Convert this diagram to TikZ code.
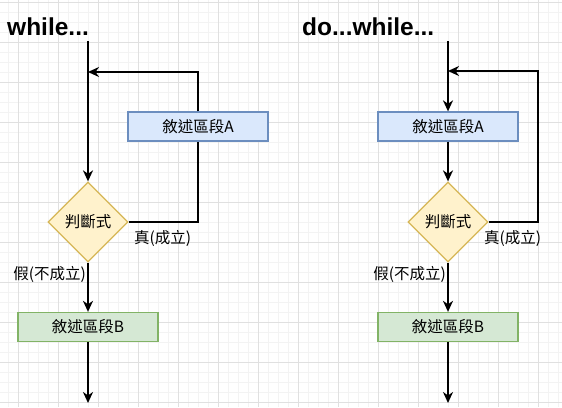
\documentclass[tikz,border=0pt]{standalone}
\usepackage{fontspec}
\setmainfont{Liberation Sans}
\newfontfamily\cjk{Noto Sans CJK TC}
\usetikzlibrary{shapes.geometric,arrows.meta}
\definecolor{gridminor}{HTML}{F3F3F3}
\definecolor{gridmajor}{HTML}{E0E0E0}
\definecolor{bluefill}{HTML}{DAE8FC}
\definecolor{bluedraw}{HTML}{6C8EBF}
\definecolor{yelfill}{HTML}{FFF2CC}
\definecolor{yeldraw}{HTML}{D6B656}
\definecolor{grnfill}{HTML}{D5E8D4}
\definecolor{grndraw}{HTML}{82B366}
\tikzset{
  title/.style={font=\fontsize{24.5}{28}\selectfont\bfseries, inner sep=0pt, anchor=base west},
  lbl/.style={font=\cjk\fontsize{15.5}{17}\selectfont, inner sep=0pt},
  boxa/.style={draw=bluedraw, fill=bluefill, line width=1.3pt, minimum width=140pt, minimum height=29pt, inner sep=0pt, font=\cjk\fontsize{15.5}{17}\selectfont},
  boxb/.style={draw=grndraw, fill=grnfill, line width=1.3pt, minimum width=140pt, minimum height=29pt, inner sep=0pt, font=\cjk\fontsize{15.5}{17}\selectfont},
  cond/.style={diamond, draw=yeldraw, fill=yelfill, line width=1.3pt, minimum width=80pt, minimum height=80pt, inner sep=0pt, aspect=1, font=\cjk\fontsize{15.5}{17}\selectfont},
  flow/.style={line width=2.2pt, line join=miter},
  arr/.style={flow, -{Stealth[length=11pt,width=10pt,inset=3.5pt]}},
}
\begin{document}
\begin{tikzpicture}[x=1pt,y=-1pt]
\useasboundingbox (0,0) rectangle (562,407);
\fill[white] (0,0) rectangle (562,407);
% grid
\foreach \x in {8,18,...,558} \draw[gridminor, line width=0.8pt] (\x,0) -- (\x,407);
\foreach \y in {2,12,...,402} \draw[gridminor, line width=0.8pt] (0,\y) -- (562,\y);
\foreach \x in {18,58,...,538} \draw[gridmajor, line width=0.8pt] (\x,0) -- (\x,407);
\foreach \y in {2,42,...,402} \draw[gridmajor, line width=0.8pt] (0,\y) -- (562,\y);

% ---------- while ----------
\node[title] (t1) at (7,35.5) {while...};
\coordinate (s1) at (88,41);
\coordinate (j1) at (88,72);
\coordinate (e1) at (88,403);
\node[boxa] (A1) at (198,126.5) {敘述區段A};
\node[cond] (D1) at (88,222) {判斷式};
\node[boxb] (B1) at (88,327) {敘述區段B};
\draw[arr] (s1) -- (D1.north);
\draw[arr] (A1.north) |- (j1);
\draw[flow] (D1.east) -| (A1.south);
\draw[arr] (D1.south) -- (B1.north);
\draw[arr] (B1.south) -- (e1);
\node[lbl, anchor=west] (T1) at (134,238) {真(成立)};
\node[lbl, anchor=east] (F1) at (86,274) {假(不成立)};

% ---------- do...while ----------
\node[title] (t2) at (302,35.5) {do...while...};
\coordinate (s2) at (448,41);
\coordinate (j2) at (448,71);
\coordinate (c2) at (538,71);
\coordinate (e2) at (448,403);
\node[boxa] (A2) at (448,126.5) {敘述區段A};
\node[cond] (D2) at (448,222) {判斷式};
\node[boxb] (B2) at (448,327) {敘述區段B};
\draw[arr] (s2) -- (A2.north);
\draw[arr] (A2.south) -- (D2.north);
\draw[arr] (D2.east) -| (c2) -- (j2);
\draw[arr] (D2.south) -- (B2.north);
\draw[arr] (B2.south) -- (e2);
\node[lbl, anchor=west] (T2) at (484,238) {真(成立)};
\node[lbl, anchor=east] (F2) at (446,274) {假(不成立)};
\end{tikzpicture}
\end{document}
